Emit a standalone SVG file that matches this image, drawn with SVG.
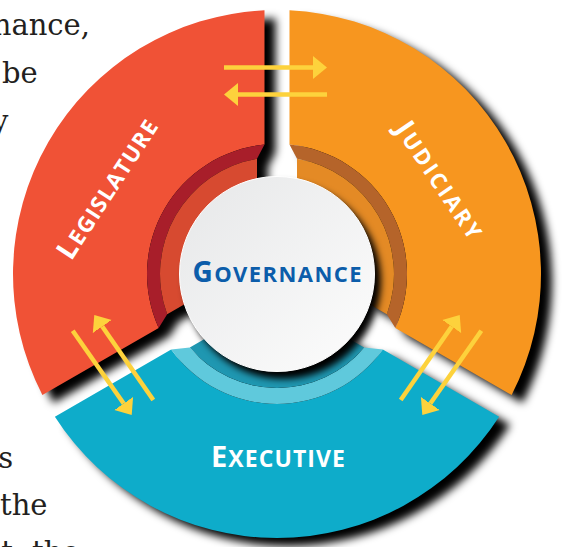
<svg xmlns="http://www.w3.org/2000/svg" width="562" height="547" viewBox="0 0 562 547">
<style>
.body{font-family:"DejaVu Serif","Liberation Serif",serif;font-size:29px;fill:#231F20}
.lbl{font-family:"Open Sans","Noto Sans",sans-serif;font-weight:700;fill:#FFFFFF}
.gov{fill:#0C5DAA}
.big{font-size:28px}
.sm{font-size:22px}
.arrow{stroke:#FDD23C;stroke-width:4.5;fill:none;marker-end:url(#ah)}
</style>
<defs>
<filter id="sh" x="-20%" y="-20%" width="150%" height="150%" color-interpolation-filters="sRGB">
<feGaussianBlur in="SourceAlpha" stdDeviation="4"/>
<feOffset dx="11" dy="8" result="b"/>
<feFlood flood-color="#000" flood-opacity="1"/>
<feComposite in2="b" operator="in"/>
<feMerge><feMergeNode/><feMergeNode in="SourceGraphic"/></feMerge>
</filter>
<filter id="shc" x="-20%" y="-20%" width="150%" height="150%" color-interpolation-filters="sRGB">
<feGaussianBlur in="SourceAlpha" stdDeviation="3.5"/>
<feOffset dx="6" dy="7" result="b"/>
<feFlood flood-color="#000" flood-opacity="1"/>
<feComposite in2="b" operator="in"/>
<feMerge><feMergeNode/><feMergeNode in="SourceGraphic"/></feMerge>
</filter>
<linearGradient id="cg" x1="0" y1="0" x2="1" y2="1">
<stop offset="0" stop-color="#E6E7E8"/>
<stop offset="1" stop-color="#FDFDFD"/>
</linearGradient>
<marker id="ah" viewBox="0 -12 14 24" markerWidth="14" markerHeight="24" refX="0" refY="0" orient="auto" markerUnits="userSpaceOnUse">
<path d="M0,-11.5 L14,0 L0,11.5 Z" fill="#FDD23C"/>
</marker>
</defs>

<g id="page-text" class="body">
<text x="90" y="35" text-anchor="end">nance,</text>
<text x="2" y="83">be</text>
<text x="-8" y="131">y</text>
<text x="-11" y="468">is</text>
<text x="0" y="515">the</text>
<text x="-16" y="562">at</text>
<text x="32" y="562">the</text>
</g>

<g id="legislature">
<g filter="url(#sh)">
<path d="M42.38,395.03 A264,264 0 0 1 264.5,10.3 L264.5,144.6 A130,130 0 0 0 158.69,327.88 Z" fill="#F05236"/>
<path d="M158.69,327.88 A130,130 0 0 1 264.5,144.6 L257,158.72 A117,117 0 0 0 167.17,314.32 Z" fill="#A81E2A"/>
<path d="M167.17,314.32 A117,117 0 0 1 257,158.72 L257,186.25 A90,90 0 0 0 191.01,300.56 Z" fill="#D74A30"/>
</g>
<text class="lbl" transform="translate(115,194) rotate(-57)" text-anchor="middle" textLength="161" lengthAdjust="spacing"><tspan class="big">L</tspan><tspan class="sm">EGISLATURE</tspan></text>
</g>

<g id="judiciary">
<g filter="url(#sh)">
<path d="M289.5,10.3 A264,264 0 0 1 511.62,395.03 L395.31,327.88 A130,130 0 0 0 289.5,144.6 Z" fill="#F7961F"/>
<path d="M289.5,144.6 A130,130 0 0 1 395.31,327.88 L386.83,314.32 A117,117 0 0 0 297,158.72 Z" fill="#B5642A"/>
<path d="M297,158.72 A117,117 0 0 1 386.83,314.32 L362.99,300.56 A90,90 0 0 0 297,186.25 Z" fill="#E48A25"/>
</g>
<text class="lbl" transform="translate(432,185) rotate(56)" text-anchor="middle" textLength="135" lengthAdjust="spacing"><tspan class="big">J</tspan><tspan class="sm">UDICIARY</tspan></text>
</g>

<g id="executive">
<g filter="url(#sh)">
<path d="M499.12,416.68 A264,264 0 0 1 54.88,416.68 L171.19,349.53 A130,130 0 0 0 382.81,349.53 Z" fill="#0EACCA"/>
<path d="M382.81,349.53 A130,130 0 0 1 171.19,349.53 L189.81,347.44 A114,114 0 0 0 364.19,347.44 Z" fill="#5FC9DC"/>
<path d="M364.19,347.44 A114,114 0 0 1 189.81,347.44 L211.01,335.2 A90,90 0 0 0 342.99,335.2 Z" fill="#1F97B1"/>
</g>
<text class="lbl" x="278" y="467" text-anchor="middle" textLength="134" lengthAdjust="spacing"><tspan font-size="29">E</tspan><tspan font-size="23">XECUTIVE</tspan></text>
</g>

<g id="governance">
<circle cx="277" cy="274" r="97.5" fill="url(#cg)" stroke="#FFFFFF" stroke-width="1" filter="url(#shc)"/>
<text class="lbl gov" x="277" y="282" text-anchor="middle" textLength="169" lengthAdjust="spacing"><tspan class="big">G</tspan><tspan class="sm">OVERNANCE</tspan></text>
</g>

<g id="connectors">
<path class="arrow" d="M224,67.5 L313,67.5"/>
<path class="arrow" d="M327,94.5 L238,94.5"/>
<path class="arrow" d="M72.7,330.7 L123.67,403.53"/>
<path class="arrow" d="M153.3,400 L102.28,326.5"/>
<path class="arrow" d="M400.7,400 L451.72,326.5"/>
<path class="arrow" d="M481.3,330.7 L430.33,403.53"/>
</g>
</svg>
